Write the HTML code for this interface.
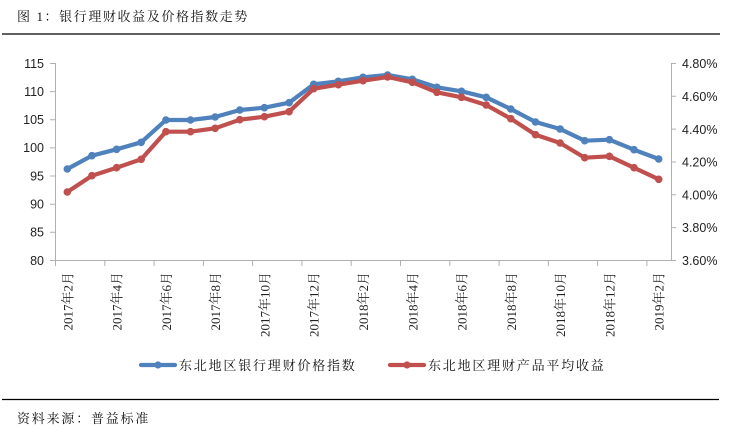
<!DOCTYPE html>
<html><head><meta charset="utf-8"><style>
html,body{margin:0;padding:0;background:#fff;}
svg{display:block;}
.cj{font-family:"Liberation Serif","Noto Serif CJK SC",serif;}
.ax{font-family:"Liberation Sans",sans-serif;font-size:12.5px;fill:#222;}
.xl{font-family:"Liberation Serif","Noto Serif CJK SC",serif;font-size:13px;fill:#222;}
</style></head><body>
<svg width="735" height="433" viewBox="0 0 735 433" xmlns="http://www.w3.org/2000/svg">
<rect width="735" height="433" fill="#fff"/>
<text x="17" y="21" class="cj" font-size="13" letter-spacing="1.6" fill="#111">图 1：银行理财收益及价格指数走势</text>
<line x1="2" y1="34" x2="720" y2="34" stroke="#000" stroke-width="1.3"/>

<!-- axes -->
<g stroke="#B0B0B0" stroke-width="1" fill="none">
<line x1="55.5" y1="63" x2="55.5" y2="260"/>
<line x1="671.5" y1="63" x2="671.5" y2="260"/>
<line x1="55" y1="260.5" x2="671" y2="260.5"/>
<path d="M50 63.5H55 M50 91.6H55 M50 119.8H55 M50 147.9H55 M50 176H55 M50 204.2H55 M50 232.3H55 M50 260.5H55"/>
<path d="M671 63.5H676 M671 96.3H676 M671 129.1H676 M671 162H676 M671 194.8H676 M671 227.6H676 M671 260.5H676"/>
<path d="M55.5 260V266 M104.8 260V266 M154.1 260V266 M203.4 260V266 M252.6 260V266 M301.9 260V266 M351.2 260V266 M400.5 260V266 M449.8 260V266 M499.1 260V266 M548.4 260V266 M597.6 260V266 M646.9 260V266"/>
</g>

<g class="ax" text-anchor="end">
<text x="44" y="68">115</text>
<text x="44" y="96">110</text>
<text x="44" y="124">105</text>
<text x="44" y="152">100</text>
<text x="44" y="180.5">95</text>
<text x="44" y="208.5">90</text>
<text x="44" y="236.5">85</text>
<text x="44" y="265">80</text>
</g>
<g class="ax" text-anchor="start">
<text x="682" y="68">4.80%</text>
<text x="682" y="101">4.60%</text>
<text x="682" y="134">4.40%</text>
<text x="682" y="166.5">4.20%</text>
<text x="682" y="199.5">4.00%</text>
<text x="682" y="232">3.80%</text>
<text x="682" y="265">3.60%</text>
</g>

<g class="xl" text-anchor="end">
<text transform="translate(72.3,272) rotate(-90)">2017年2月</text>
<text transform="translate(121.6,272) rotate(-90)">2017年4月</text>
<text transform="translate(170.9,272) rotate(-90)">2017年6月</text>
<text transform="translate(220.1,272) rotate(-90)">2017年8月</text>
<text transform="translate(269.4,272) rotate(-90)">2017年10月</text>
<text transform="translate(318.7,272) rotate(-90)">2017年12月</text>
<text transform="translate(368,272) rotate(-90)">2018年2月</text>
<text transform="translate(417.3,272) rotate(-90)">2018年4月</text>
<text transform="translate(466.5,272) rotate(-90)">2018年6月</text>
<text transform="translate(515.8,272) rotate(-90)">2018年8月</text>
<text transform="translate(565.1,272) rotate(-90)">2018年10月</text>
<text transform="translate(614.4,272) rotate(-90)">2018年12月</text>
<text transform="translate(663.7,272) rotate(-90)">2019年2月</text>
</g>

<!-- blue series -->
<g>
<polyline fill="none" stroke="#4F81BD" stroke-width="4.2" stroke-linejoin="round" stroke-linecap="round"
points="67.3,169 91.9,155.7 116.6,149.3 141.2,142.3 165.9,120 190.5,120 215.1,117 239.8,110 264.4,107.7 289.1,102.7 313.7,84.3 338.3,81.3 363,77.3 387.6,75 412.3,79.3 436.9,87.3 461.5,91.3 486.2,97.3 510.8,109 535.5,122 560.1,129 584.7,140.7 609.4,139.7 634,149.7 658.7,159"/>
<g fill="#4F81BD">
<circle cx="67.3" cy="169" r="3.8"/><circle cx="91.9" cy="155.7" r="3.8"/><circle cx="116.6" cy="149.3" r="3.8"/><circle cx="141.2" cy="142.3" r="3.8"/><circle cx="165.9" cy="120" r="3.8"/><circle cx="190.5" cy="120" r="3.8"/><circle cx="215.1" cy="117" r="3.8"/><circle cx="239.8" cy="110" r="3.8"/><circle cx="264.4" cy="107.7" r="3.8"/><circle cx="289.1" cy="102.7" r="3.8"/><circle cx="313.7" cy="84.3" r="3.8"/><circle cx="338.3" cy="81.3" r="3.8"/><circle cx="363" cy="77.3" r="3.8"/><circle cx="387.6" cy="75" r="3.8"/><circle cx="412.3" cy="79.3" r="3.8"/><circle cx="436.9" cy="87.3" r="3.8"/><circle cx="461.5" cy="91.3" r="3.8"/><circle cx="486.2" cy="97.3" r="3.8"/><circle cx="510.8" cy="109" r="3.8"/><circle cx="535.5" cy="122" r="3.8"/><circle cx="560.1" cy="129" r="3.8"/><circle cx="584.7" cy="140.7" r="3.8"/><circle cx="609.4" cy="139.7" r="3.8"/><circle cx="634" cy="149.7" r="3.8"/><circle cx="658.7" cy="159" r="3.8"/>
</g>
</g>

<!-- red series -->
<g>
<polyline fill="none" stroke="#C0504D" stroke-width="4.2" stroke-linejoin="round" stroke-linecap="round"
points="67.3,192 91.9,175.7 116.6,167.7 141.2,159.3 165.9,131.7 190.5,131.7 215.1,128.3 239.8,119.7 264.4,116.7 289.1,111.7 313.7,88.7 338.3,84.7 363,80.7 387.6,77 412.3,82.3 436.9,92.3 461.5,97.3 486.2,105 510.8,118.7 535.5,134.7 560.1,143 584.7,157.7 609.4,156.3 634,167.7 658.7,179.3"/>
<g fill="#C0504D">
<circle cx="67.3" cy="192" r="3.8"/><circle cx="91.9" cy="175.7" r="3.8"/><circle cx="116.6" cy="167.7" r="3.8"/><circle cx="141.2" cy="159.3" r="3.8"/><circle cx="165.9" cy="131.7" r="3.8"/><circle cx="190.5" cy="131.7" r="3.8"/><circle cx="215.1" cy="128.3" r="3.8"/><circle cx="239.8" cy="119.7" r="3.8"/><circle cx="264.4" cy="116.7" r="3.8"/><circle cx="289.1" cy="111.7" r="3.8"/><circle cx="313.7" cy="88.7" r="3.8"/><circle cx="338.3" cy="84.7" r="3.8"/><circle cx="363" cy="80.7" r="3.8"/><circle cx="387.6" cy="77" r="3.8"/><circle cx="412.3" cy="82.3" r="3.8"/><circle cx="436.9" cy="92.3" r="3.8"/><circle cx="461.5" cy="97.3" r="3.8"/><circle cx="486.2" cy="105" r="3.8"/><circle cx="510.8" cy="118.7" r="3.8"/><circle cx="535.5" cy="134.7" r="3.8"/><circle cx="560.1" cy="143" r="3.8"/><circle cx="584.7" cy="157.7" r="3.8"/><circle cx="609.4" cy="156.3" r="3.8"/><circle cx="634" cy="167.7" r="3.8"/><circle cx="658.7" cy="179.3" r="3.8"/>
</g>
</g>

<!-- legend -->
<line x1="141" y1="365" x2="175" y2="365" stroke="#4F81BD" stroke-width="4.2" stroke-linecap="round"/>
<circle cx="158" cy="365" r="3.6" fill="#4F81BD"/>
<text x="179" y="370" class="cj" font-size="13" letter-spacing="1.8" fill="#111">东北地区银行理财价格指数</text>
<line x1="390" y1="365" x2="424" y2="365" stroke="#C0504D" stroke-width="4.2" stroke-linecap="round"/>
<circle cx="407" cy="365" r="3.6" fill="#C0504D"/>
<text x="428" y="370" class="cj" font-size="13" letter-spacing="1.8" fill="#111">东北地区理财产品平均收益</text>

<line x1="2" y1="399.5" x2="719" y2="399.5" stroke="#000" stroke-width="1.3"/>
<text x="17" y="423" class="cj" font-size="13" letter-spacing="1.8" fill="#111">资料来源：普益标准</text>
</svg>
</body></html>
